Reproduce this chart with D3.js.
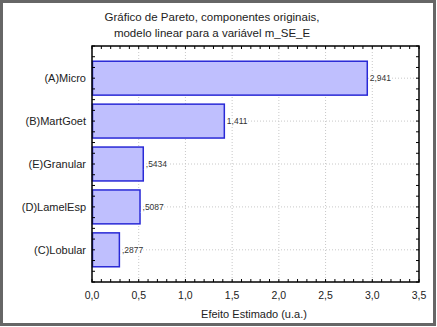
<!DOCTYPE html>
<html>
<head>
<meta charset="utf-8">
<script src="https://cdn.jsdelivr.net/npm/d3@7"></script>
<style>
body { margin: 0; background: #fff; }
text { font-family: "Liberation Sans", Arial, sans-serif; }
</style>
</head>
<body>
<script>
// dados
var categorias = ["(A)Micro", "(B)MartGoet", "(E)Granular", "(D)LamelEsp", "(C)Lobular"];
var efeitos = [2.941, 1.411, 0.5434, 0.5087, 0.2877];
var rotulos = ["2,941", "1,411", ",5434", ",5087", ",2877"];
var xTicks = [0, 0.5, 1, 1.5, 2, 2.5, 3, 3.5];
var titulo = ["Gráfico de Pareto, componentes originais,", "modelo linear para a variável m_SE_E"];

var w = 437, h = 327;
var pLeft = 92, pRight = 419, pTop = 46, pBottom = 282;

var svg = d3.select("body").append("svg")
    .attr("width", w)
    .attr("height", h);

// moldura externa
svg.append("rect")
    .attr("x", 1.5).attr("y", 1.5)
    .attr("width", 433).attr("height", 323)
    .attr("fill", "none")
    .attr("stroke", "#666")
    .attr("stroke-width", 3);

var x = d3.scaleLinear().domain([0, 3.5]).range([pLeft, pRight]);
// categorias em posições 1..5, eixo de 0.25 a 5.75
var y = d3.scaleLinear().domain([0.25, 5.75]).range([pTop, pBottom]);
function yc(i) { return y(i + 1); }
var step = y(2) - y(1);

var fmt = function(d) { return d3.format(".1f")(d).replace(".", ","); };

// grade pontilhada
svg.selectAll("line.vgrid")
    .data(xTicks.slice(1, -1))
    .enter().append("line")
    .attr("x1", function(d) { return x(d); })
    .attr("x2", function(d) { return x(d); })
    .attr("y1", pTop).attr("y2", pBottom)
    .attr("stroke", "#c8c8c8")
    .attr("stroke-dasharray", "1,2");

svg.selectAll("line.hgrid")
    .data(categorias)
    .enter().append("line")
    .attr("x1", pLeft).attr("x2", pRight)
    .attr("y1", function(d, i) { return yc(i); })
    .attr("y2", function(d, i) { return yc(i); })
    .attr("stroke", "#c8c8c8")
    .attr("stroke-dasharray", "1,2");

// barras
var barH = step * 0.79;
svg.selectAll("rect.bar")
    .data(efeitos)
    .enter().append("rect")
    .attr("x", x(0) + 0.5)
    .attr("y", function(d, i) { return yc(i) - barH / 2; })
    .attr("width", function(d) { return x(d) - x(0); })
    .attr("height", barH)
    .attr("fill", "#bfbffe")
    .attr("stroke", "#2929d6")
    .attr("stroke-width", 1.5);

// rótulos dos valores, com fundo branco sobre a grade
svg.selectAll("text.val")
    .data(efeitos)
    .enter().append("text")
    .attr("x", function(d) { return x(d) + 3; })
    .attr("y", function(d, i) { return yc(i) + 3; })
    .attr("font-size", "8.5px")
    .attr("fill", "#333")
    .attr("stroke", "#fff")
    .attr("stroke-width", 3)
    .attr("paint-order", "stroke")
    .text(function(d, i) { return rotulos[i]; });

// marcas internas nos quatro lados
var minorX = d3.range(0, 3.5001, 0.1);
var minorY = d3.range(0, 23).map(function(i) { return 0.25 + i / 4; });

function tickSet(data, fx1, fy1, fx2, fy2) {
    svg.append("g").selectAll("line")
        .data(data)
        .enter().append("line")
        .attr("x1", fx1).attr("y1", fy1)
        .attr("x2", fx2).attr("y2", fy2)
        .attr("stroke", "#000");
}
tickSet(minorX, function(d) { return x(d); }, pBottom, function(d) { return x(d); }, pBottom - 3);
tickSet(minorX, function(d) { return x(d); }, pTop, function(d) { return x(d); }, pTop + 3);
tickSet(minorY, pLeft, function(d) { return y(d); }, pLeft + 3, function(d) { return y(d); });
tickSet(minorY, pRight, function(d) { return y(d); }, pRight - 3, function(d) { return y(d); });

svg.append("rect")
    .attr("x", pLeft).attr("y", pTop)
    .attr("width", pRight - pLeft).attr("height", pBottom - pTop)
    .attr("fill", "none")
    .attr("stroke", "#000")
    .attr("stroke-width", 1.5);

// rótulos do eixo x
svg.selectAll("text.xt")
    .data(xTicks)
    .enter().append("text")
    .attr("x", function(d) { return x(d); })
    .attr("y", pBottom + 17)
    .attr("text-anchor", "middle")
    .attr("font-size", "10.5px")
    .attr("fill", "#222")
    .text(fmt);

// rótulos das categorias
svg.selectAll("text.cat")
    .data(categorias)
    .enter().append("text")
    .attr("x", pLeft - 6)
    .attr("y", function(d, i) { return yc(i) + 4; })
    .attr("text-anchor", "end")
    .attr("font-size", "11px")
    .attr("fill", "#222")
    .text(function(d) { return d; });

svg.selectAll("text.tit")
    .data(titulo)
    .enter().append("text")
    .attr("x", 212)
    .attr("y", function(d, i) { return 21 + i * 16; })
    .attr("text-anchor", "middle")
    .attr("font-size", "11.5px")
    .attr("fill", "#222")
    .text(function(d) { return d; });

svg.append("text")
    .attr("x", 254)
    .attr("y", 318)
    .attr("text-anchor", "middle")
    .attr("font-size", "11px")
    .attr("fill", "#222")
    .text("Efeito Estimado (u.a.)");
</script>
</body>
</html>
